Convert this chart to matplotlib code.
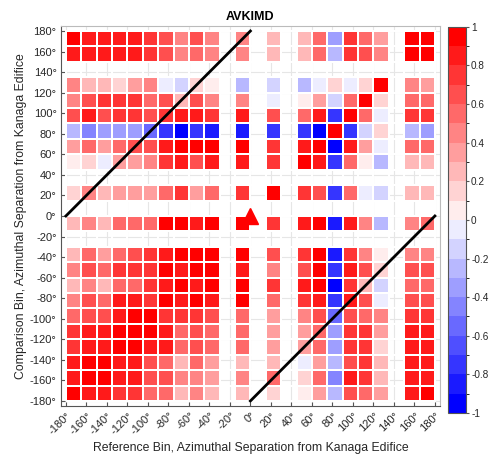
import numpy as np
import matplotlib.pyplot as plt
from matplotlib.colors import ListedColormap, BoundaryNorm

plt.rcParams['font.family'] = ['Liberation Sans', 'DejaVu Sans']

# 15 degree azimuth bins, -180..180 on both axes
bin_edges = np.arange(-180, 181, 15)
# bins that hold data (the rest stay blank)
filled_bins = [0, 1, 2, 3, 4, 5, 6, 7, 8, 9, 11, 13, 15, 16, 17, 18, 19, 20, 22, 23]

# correlation per comparison bin, listed from the 165..180 row down to -180..-165
corr_rows = [
    [0.95, 0.85, 0.85, 0.85, 0.85, 0.75, 0.65, 0.45, 0.65, 0.45, 0.45, 0.25, 0.30, 0.55, -0.35, 0.75, 0.60, 0.40, 0.95, 0.95],
    [0.85, 0.85, 0.80, 0.85, 0.85, 0.75, 0.65, 0.45, 0.60, 0.45, 0.45, 0.25, 0.25, 0.55, -0.25, 0.75, 0.65, 0.45, 0.95, 0.95],
    [0.45, 0.30, 0.30, 0.20, 0.40, 0.45, -0.05, -0.15, 0.15, 0.05, -0.25, -0.15, -0.25, -0.05, 0.15, -0.05, 0.15, 0.95, 0.45, 0.40],
    [0.45, 0.65, 0.75, 0.75, 0.75, 0.60, 0.70, 0.30, 0.65, 0.45, 0.45, -0.05, 0.05, 0.35, -0.15, 0.55, 0.95, 0.15, 0.60, 0.55],
    [0.65, 0.85, 0.70, 0.75, 0.75, 0.70, 0.75, 0.85, 0.85, 0.75, 0.85, 0.65, 0.55, 0.85, -0.75, 0.95, 0.55, -0.05, 0.75, 0.75],
    [-0.25, -0.45, -0.30, -0.35, -0.35, -0.55, -0.75, -0.95, -0.75, -0.85, -0.85, -0.75, -0.75, -0.95, 0.95, -0.75, -0.15, 0.15, -0.25, -0.35],
    [0.35, 0.55, 0.40, 0.55, 0.65, 0.65, 0.85, 0.95, 0.95, 0.95, 0.95, 0.75, 0.85, 0.95, -0.95, 0.85, 0.35, -0.05, 0.55, 0.55],
    [0.05, 0.15, -0.05, 0.35, 0.35, 0.45, 0.75, 0.85, 0.70, 0.85, 0.85, 0.75, 0.95, 0.85, -0.80, 0.55, 0.05, -0.25, 0.25, 0.25],
    [0.15, 0.45, 0.30, 0.35, 0.35, 0.35, 0.55, 0.75, 0.40, 0.60, 0.75, 0.95, 0.75, 0.70, -0.75, 0.60, -0.05, -0.15, 0.25, 0.25],
    [0.25, 0.45, 0.30, 0.55, 0.55, 0.55, 0.95, 0.95, 0.85, 0.95, 0.95, 0.75, 0.85, 0.95, -0.85, 0.85, 0.45, -0.25, 0.45, 0.50],
    [0.25, 0.60, 0.40, 0.60, 0.65, 0.75, 0.85, 0.95, 0.95, 0.95, 0.95, 0.70, 0.75, 0.95, -0.85, 0.75, 0.45, 0.05, 0.45, 0.45],
    [0.45, 0.65, 0.55, 0.75, 0.75, 0.75, 0.95, 0.85, 0.95, 0.95, 0.85, 0.45, 0.65, 0.95, -0.75, 0.85, 0.65, 0.15, 0.65, 0.65],
    [0.25, 0.45, 0.25, 0.60, 0.55, 0.75, 0.85, 0.95, 0.85, 0.95, 0.95, 0.75, 0.85, 0.95, -0.95, 0.75, 0.30, -0.15, 0.55, 0.55],
    [0.45, 0.65, 0.55, 0.85, 0.85, 0.75, 0.95, 0.85, 0.95, 0.85, 0.95, 0.55, 0.75, 0.85, -0.75, 0.85, 0.65, -0.05, 0.65, 0.65],
    [0.55, 0.65, 0.65, 0.85, 0.95, 0.95, 0.75, 0.75, 0.75, 0.70, 0.55, 0.35, 0.45, 0.65, -0.55, 0.65, 0.55, 0.45, 0.75, 0.75],
    [0.75, 0.85, 0.85, 0.95, 0.95, 0.95, 0.85, 0.60, 0.70, 0.55, 0.55, 0.35, 0.35, 0.60, -0.35, 0.75, 0.75, 0.35, 0.85, 0.85],
    [0.75, 0.85, 0.85, 0.95, 0.95, 0.85, 0.85, 0.55, 0.65, 0.50, 0.55, 0.35, 0.35, 0.55, -0.35, 0.75, 0.75, 0.15, 0.85, 0.85],
    [0.85, 0.95, 0.95, 0.85, 0.85, 0.65, 0.60, 0.25, 0.55, 0.35, 0.25, 0.25, -0.05, 0.40, -0.25, 0.65, 0.75, 0.25, 0.85, 0.85],
    [0.85, 0.95, 0.95, 0.85, 0.85, 0.65, 0.65, 0.45, 0.45, 0.40, 0.45, 0.55, 0.15, 0.55, -0.45, 0.85, 0.75, 0.25, 0.85, 0.85],
    [0.95, 0.85, 0.85, 0.75, 0.75, 0.60, 0.50, 0.25, 0.45, 0.30, 0.25, 0.15, 0.05, 0.40, -0.25, 0.70, 0.55, 0.40, 0.85, 0.95],
]

edifice = (0, 0)
tick_vals = np.arange(-180, 181, 20)
cbar_ticks = np.round(np.arange(-1, 1.01, 0.2), 1)
cbar_labels = ['-1', '-0.8', '-0.6', '-0.4', '-0.2', '0', '0.2', '0.4', '0.6', '0.8', '1']

n = len(bin_edges) - 1
Z = np.full((n, n), np.nan)
for r, vals in zip(filled_bins[::-1], corr_rows):
    Z[r, filled_bins] = vals

# 20 level blue-white-red map
frac = np.linspace(0.07, 1.0, 10)
reds = [(1, 1 - f, 1 - f) for f in frac]
blues = [(1 - f, 1 - f, 1) for f in frac[::-1]]
cmap = ListedColormap(blues + reds)
norm = BoundaryNorm(np.linspace(-1, 1, 21), cmap.N)

fig = plt.figure(figsize=(4.9, 4.62), dpi=100)
ax = fig.add_axes([0.124, 0.121, 0.774, 0.823])

ax.set_axisbelow(True)
ax.grid(True, color='#e6e6e6', linewidth=0.8)
mesh = ax.pcolormesh(bin_edges, bin_edges, np.ma.masked_invalid(Z), cmap=cmap, norm=norm,
                     edgecolor='white', linewidth=1.3)

# wrap-around diagonals
ax.plot([-180, 0], [0, 180], color='black', lw=2)
ax.plot([0, 180], [-180, 0], color='black', lw=2)
ax.plot(*edifice, marker='^', color='red', ms=12, mec='red', clip_on=False)

ax.set_xlim(-185, 185)
ax.set_ylim(-185, 185)
ax.set_xticks(tick_vals)
ax.set_yticks(tick_vals)
ax.set_xticklabels([f'{v}°' for v in tick_vals], rotation=45, ha='right', rotation_mode='anchor')
ax.set_yticklabels([f'{v}°' for v in tick_vals])
ax.tick_params(direction='in', length=3, color='#555555', labelsize=8, labelcolor='#262626', pad=3)
for s in ax.spines.values():
    s.set_color('#bbbbbb')
    s.set_linewidth(0.8)
ax.spines['left'].set_color('#555555')
ax.spines['bottom'].set_color('#555555')

ax.set_title('AVKIMD', fontsize=9, fontweight='bold', pad=4)
ax.set_xlabel('Reference Bin, Azimuthal Separation from Kanaga Edifice', fontsize=8.8, color='#262626', labelpad=4)
ax.set_ylabel('Comparison Bin, Azimuthal Separation from Kanaga Edifice', fontsize=8.8, color='#262626', labelpad=2)

cax = fig.add_axes([0.914, 0.106, 0.036, 0.836])
cb = fig.colorbar(mesh, cax=cax, ticks=cbar_ticks)
cb.ax.set_yticklabels(cbar_labels)
cb.ax.tick_params(labelsize=7.2, labelcolor='#262626', length=2.5, color='#555555', pad=1.5)
cb.outline.set_edgecolor('#555555')
cb.outline.set_linewidth(0.8)

fig.savefig('out.png', dpi=100)
